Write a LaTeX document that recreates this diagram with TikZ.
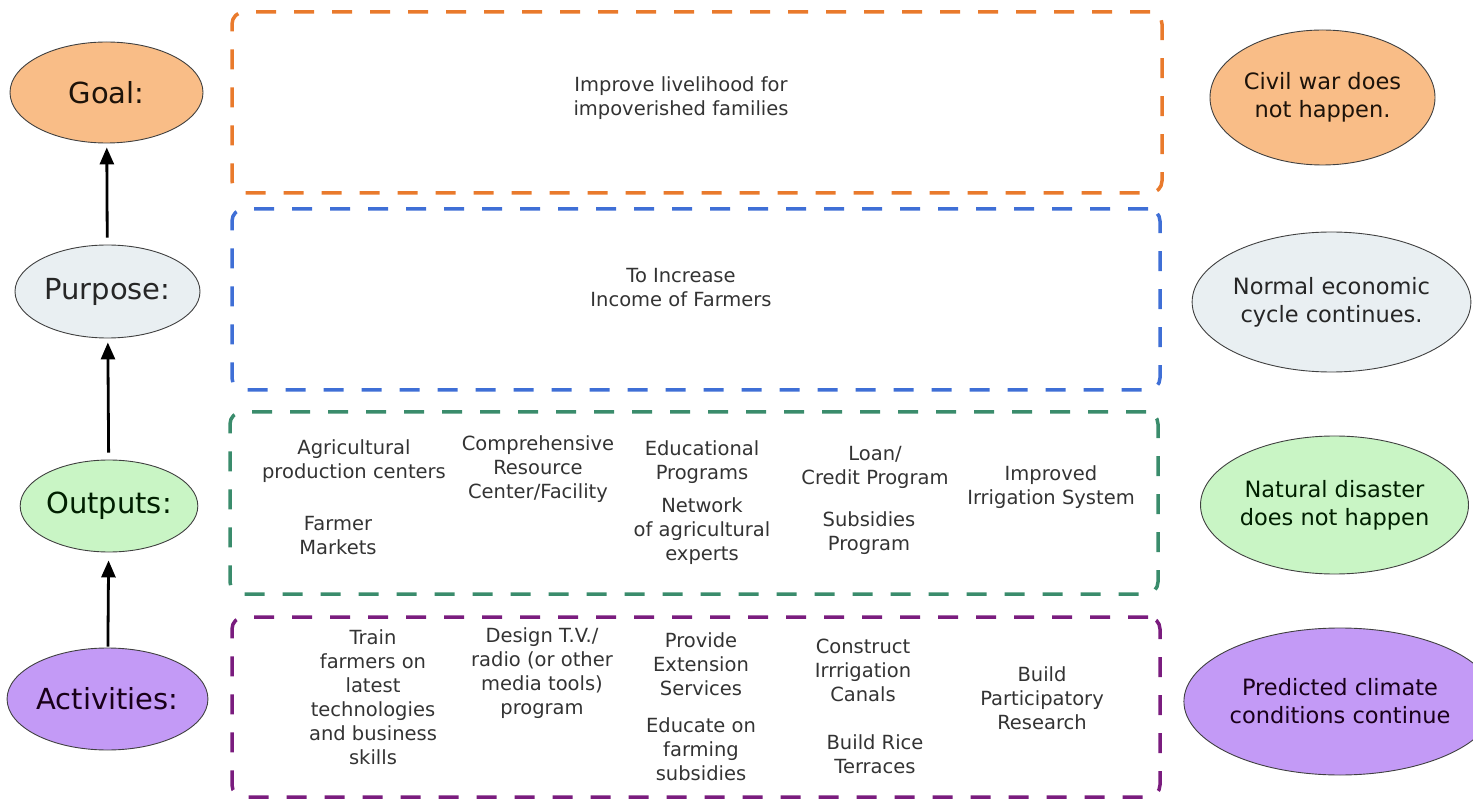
\documentclass[tikz,border=0pt]{standalone}
\usepackage{fontspec}
\setmainfont{DejaVu Sans}
\usetikzlibrary{shapes.geometric,arrows.meta}
\definecolor{goalline}{HTML}{E97A2C}
\definecolor{purposeline}{HTML}{3F6FD6}
\definecolor{outputline}{HTML}{3A8C6C}
\definecolor{activityline}{HTML}{7A1C7E}
\definecolor{goalfill}{HTML}{F9BD87}
\definecolor{purposefill}{HTML}{E9EFF2}
\definecolor{outputfill}{HTML}{C9F5C5}
\definecolor{activityfill}{HTML}{C39AF6}

\begin{document}
\begin{tikzpicture}[x=1pt,y=-1pt,
    level/.style={ellipse,draw=black!75,line width=0.9pt,inner sep=0pt,font=\fontsize{29}{34}\selectfont},
    assume/.style={ellipse,draw=black!75,line width=0.9pt,inner sep=0pt,align=center,font=\fontsize{22.5}{28}\selectfont},
    frame/.style={line width=3.5pt,dash pattern=on 20pt off 18pt,rounded corners=12pt,inner sep=0pt},
    item/.style={align=center,text=black!80,font=\fontsize{19.5}{24}\selectfont},
    up/.style={line width=2.8pt,-{Triangle[width=14pt,length=17pt]}}]
    \useasboundingbox (0,0) rectangle (1473,799);% page size
    % levels on the left
    \node[level,fill=goalfill,text=black!85!brown,minimum width=193pt,minimum height=101pt] (goal) at (106.5,92.5) {Goal:};
    \node[level,fill=purposefill,text=black!85,minimum width=185pt,minimum height=93pt] (purpose) at (107.5,291.5) {Purpose:};
    \node[level,fill=outputfill,text=black!80!green!60!black,minimum width=172pt,minimum height=92pt] (outputs) at (109,506) {Outputs:};
    \node[level,fill=activityfill,text=black!80!violet,minimum width=191pt,minimum height=102pt] (activities) at (107.5,699) {Activities:};
    \draw[up,shorten <=7pt,shorten >=4pt] (purpose) -- (goal);
    \draw[up,shorten <=7pt,shorten >=4pt] (outputs) -- (purpose);
    \draw[up,shorten <=1pt,shorten >=8pt] (activities) -- (outputs);
    % dashed frames
    \node[frame,draw=goalline,minimum width=930pt,minimum height=181pt] (goalbox) at (697,102.5) {};
    \node[frame,draw=purposeline,minimum width=928pt,minimum height=181pt] (purposebox) at (696,299.5) {};
    \node[frame,draw=outputline,minimum width=928pt,minimum height=182pt] (outputbox) at (694,503) {};
    \node[frame,draw=activityline,minimum width=928pt,minimum height=180pt] (activitybox) at (696,707) {};
    % goal and purpose
    \node[item] (improve) at (681,98) {Improve livelihood for\\impoverished families};
    \node[item] (income) at (681,288) {To Increase\\Income of Farmers};
    % outputs
    \node[item] (centers) at (354,461) {Agricultural\\production centers};
    \node[item] (markets) at (338,536) {Farmer\\Markets};
    \node[item] (facility) at (538,469) {Comprehensive\\Resource\\Center/Facility};
    \node[item] (programs) at (702,462) {Educational\\Programs};
    \node[item] (network) at (702,531) {Network\\of agricultural\\experts};
    \node[item] (loan) at (875,467) {Loan/\\Credit Program};
    \node[item] (subsidies) at (869,533) {Subsidies\\Program};
    \node[item] (irrigation) at (1051,487) {Improved\\Irrigation System};
    % activities
    \node[item] (train) at (373,697) {Train\\farmers on\\latest\\technologies\\and business\\skills};
    \node[item] (media) at (542,673) {Design T.V./\\radio (or other\\media tools)\\program};
    \node[item] (extension) at (701,664) {Provide\\Extension\\Services};
    \node[item] (educate) at (701,749) {Educate on\\farming\\subsidies};
    \node[item] (canals) at (863,670) {Construct\\Irrrigation\\Canals};
    \node[item] (terraces) at (875,754) {Build Rice\\Terraces};
    \node[item] (research) at (1042,698) {Build\\Participatory\\Research};
    % assumptions on the right
    \node[assume,fill=goalfill,text=black!85!brown,minimum width=225pt,minimum height=135pt] (civilwar) at (1322.5,97.5) {Civil war does\\not happen.};
    \node[assume,fill=purposefill,text=black!85,minimum width=263pt,minimum height=140pt] (economy) at (1331.5,302) {Normal economic\\cycle continues.};
    \node[assume,fill=outputfill,text=black!80!green!60!black,minimum width=257pt,minimum height=138pt] (disaster) at (1334.5,505) {Natural disaster\\does not happen};
    \node[assume,fill=activityfill,text=black!80!violet,minimum width=268pt,minimum height=147pt] (climate) at (1340,701.5) {Predicted climate\\conditions continue};
\end{tikzpicture}
\end{document}
